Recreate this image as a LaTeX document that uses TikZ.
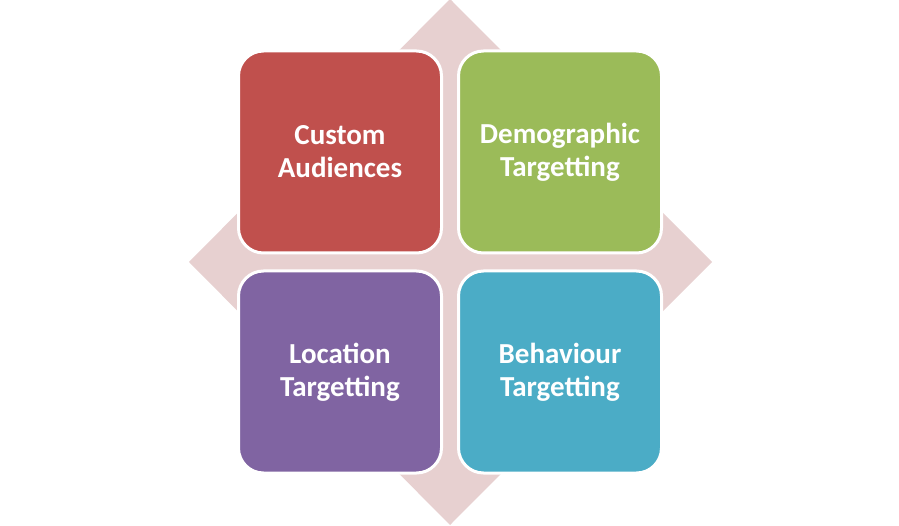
\documentclass[tikz,border=0pt]{standalone}
\usepackage{fontspec}
\setmainfont{Carlito}
\usetikzlibrary{positioning}

\definecolor{diamondpink}{RGB}{231,208,208}
\definecolor{customred}{RGB}{192,80,77}
\definecolor{demogreen}{RGB}{155,187,89}
\definecolor{locpurple}{RGB}{128,100,162}
\definecolor{behavblue}{RGB}{75,172,198}

\begin{document}
\begin{tikzpicture}[x=1pt, y=1pt, node distance=15pt and 14pt, semithick]
	\tikzstyle{every node}=[text=white, font=\fontsize{29}{33}\selectfont\bfseries, align=center]
	\tikzstyle{tile}=[draw=white, line width=3pt, rounded corners=25pt, minimum width=203pt, minimum height=202pt, inner sep=0pt]
	\useasboundingbox (0,0) rectangle (899,525);

	% background diamond
	\fill[diamondpink] (450,526) -- (712,263) -- (450,0) -- (189,263) -- cycle;

	\node[tile, fill=customred] (custom) at (340,373) {Custom\\Audiences};
	\node[tile, fill=demogreen] (demo) [right=of custom] {Demographic\\Targetting};
	\node[tile, fill=locpurple] (location) [below=of custom] {Location\\Targetting};
	\node[tile, fill=behavblue] (behaviour) [right=of location] {Behaviour\\Targetting};

\end{tikzpicture}
\end{document}
